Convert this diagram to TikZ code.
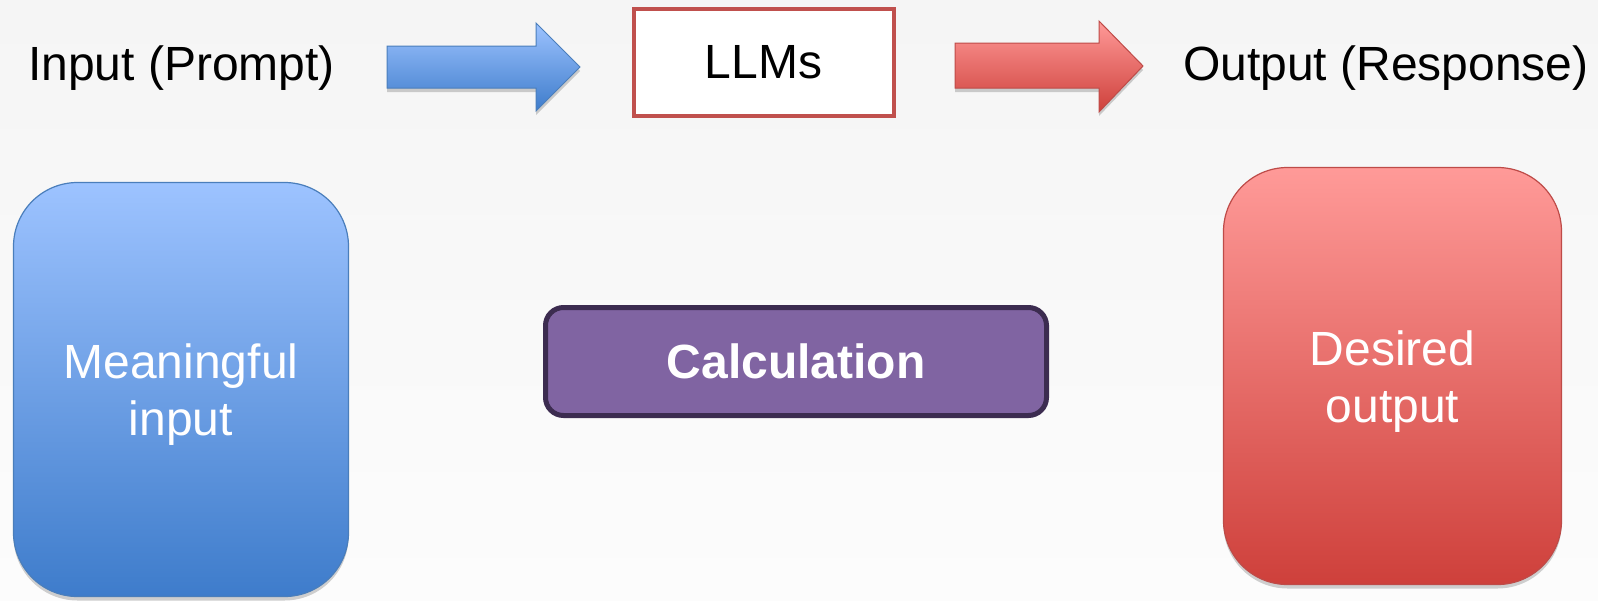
\documentclass[tikz,border=0pt]{standalone}
\usepackage{fontspec}
\setmainfont{Liberation Sans}
\usetikzlibrary{shadows}
\definecolor{bgtop}{RGB}{245,245,245}
\definecolor{bgbot}{RGB}{252,252,252}
\definecolor{bluetop}{RGB}{157,195,255}
\definecolor{bluebot}{RGB}{62,124,203}
\definecolor{blueline}{RGB}{74,126,187}
\definecolor{redtop}{RGB}{255,154,152}
\definecolor{redbot}{RGB}{206,64,59}
\definecolor{redline}{RGB}{190,75,72}
\definecolor{llmline}{RGB}{192,80,77}
\definecolor{purfill}{RGB}{128,100,162}
\definecolor{purline}{RGB}{60,44,80}
\begin{document}
\begin{tikzpicture}[x=1pt,y=-1pt,
  font=\fontsize{48}{57}\selectfont,
  softshadow/.style={drop shadow={shadow xshift=0pt,shadow yshift=-4pt,opacity=.18,fill=black}},
  plain/.style={anchor=base west,inner sep=0pt,text=black},
  llmbox/.style={draw=llmline,line width=4pt,fill=white,minimum width=260pt,minimum height=107pt,inner sep=0pt},
  bigbox/.style={rounded corners=64pt,line width=1.2pt,minimum width=335pt,minimum height=414pt,
    inner sep=0pt,softshadow},
  bigtext/.style={text=white,align=center,inner sep=0pt},
  calcbox/.style={rounded corners=18pt,draw=purline,line width=5pt,fill=purfill,
    minimum width=501pt,minimum height=108pt,text=white,font=\fontsize{48}{57}\selectfont\bfseries,inner sep=0pt},
  bluearrow/.style={draw=blueline,line width=1pt,top color=bluetop,bottom color=bluebot,softshadow},
  redarrow/.style={draw=redline,line width=1pt,top color=redtop,bottom color=redbot,softshadow}]
\useasboundingbox (0,0) rectangle (1598,600);
\shade[top color=bgtop,bottom color=bgbot] (0,0) rectangle (1598,600);

\node[plain] (inp) at (28,80) {Input (Prompt)};
\node[llmbox] (llm) at (763.5,62.5) {LLMs};
\node[plain] (out) at (1183,80) {Output (Response)};

\draw[bluearrow] (387,46) -- (536,46) -- (536,23) -- (580,67) -- (536,111) -- (536,88) -- (387,88) -- cycle;
\draw[redarrow] (955,43) -- (1099,43) -- (1099,21) -- (1143,66) -- (1099,112) -- (1099,88) -- (955,88) -- cycle;

\node[bigbox,draw=blueline,top color=bluetop,bottom color=bluebot] (mean) at (181,389.5) {};
\node[bigtext] (meantxt) at ([yshift=-5pt]mean.center) {Meaningful\\input};
\node[bigbox,draw=redline,top color=redtop,bottom color=redbot,minimum width=338pt,minimum height=417pt] (des) at (1392.5,376) {};
\node[bigtext] (destxt) at ([yshift=-6pt]des.center) {Desired\\output};
\node[calcbox] (calc) at (796,361.5) {Calculation};
\end{tikzpicture}
\end{document}
